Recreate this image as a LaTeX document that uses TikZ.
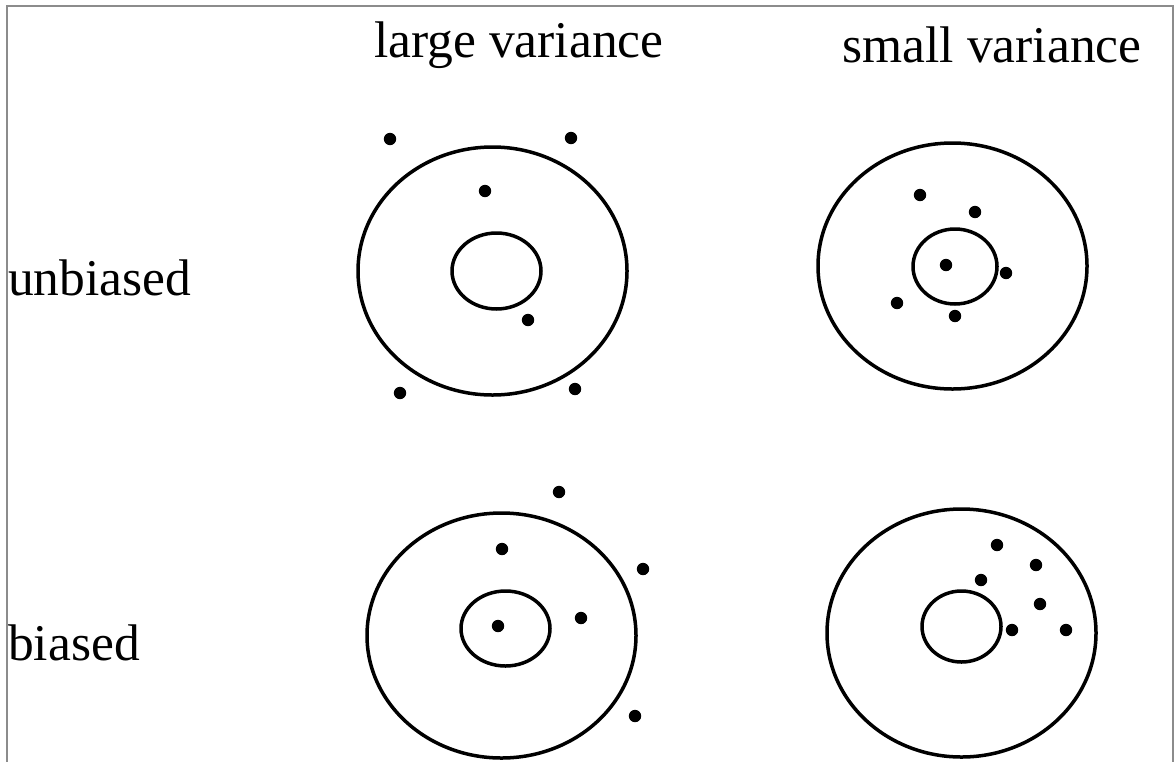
\documentclass[tikz,border=0pt]{standalone}
\usepackage{fontspec}
\setmainfont{Liberation Serif}
\tikzset{
  ring/.style={draw=black, line width=3.5pt},
  shot/.style={fill=black},
  lbl/.style={inner sep=0pt, font=\fontsize{51.5}{60}\selectfont},
  frame/.style={draw=black!45, line width=2pt}
}
\begin{document}
\begin{tikzpicture}[x=1pt,y=-1pt]
\useasboundingbox (0,0) rectangle (1174,761);
\draw[frame] (7,762) -- (7,6) -- (1173,6) -- (1173,762);
% labels
\node[lbl, anchor=base] (lv) at (519,57) {large variance};
\node[lbl, anchor=base] (sv) at (992,62) {small variance};
\node[lbl, anchor=base west] (ub) at (8,295) {unbiased};
\node[lbl, anchor=base west] (bi) at (8,660) {biased};
% top-left
\draw[ring] (492.5,271) ellipse [x radius=134.5, y radius=124];
\draw[ring] (496.5,271) ellipse [x radius=44.5, y radius=38];
\foreach \p in {(390,139),(571,138),(485,191),(528,320),(400,393),(575,389)}
  \fill[shot] \p circle (6.2);
% top-right
\draw[ring] (952.5,266) ellipse [x radius=134.5, y radius=123];
\draw[ring] (955,266.5) ellipse [x radius=42, y radius=37.5];
\foreach \p in {(920,195),(975,212),(946,265),(1006,273),(897,303),(955,316)}
  \fill[shot] \p circle (6.2);
% bottom-left
\draw[ring] (501.5,635.5) ellipse [x radius=134.5, y radius=122.5];
\draw[ring] (505.5,628.5) ellipse [x radius=44.5, y radius=37.5];
\foreach \p in {(559,492),(502,549),(643,569),(581,618),(498,626),(635,716)}
  \fill[shot] \p circle (6.2);
% bottom-right
\draw[ring] (961.5,633) ellipse [x radius=134.5, y radius=124];
\draw[ring] (961.5,626.5) ellipse [x radius=39.5, y radius=35.5];
\foreach \p in {(997,545),(1036,565),(981,580),(1040,604),(1012,630),(1066,630)}
  \fill[shot] \p circle (6.2);
\end{tikzpicture}
\end{document}
